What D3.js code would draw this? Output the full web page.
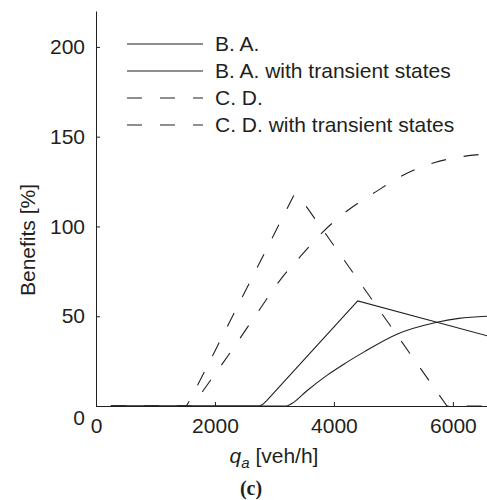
<!DOCTYPE html>
<head>
    <title>benefits chart</title>
    <meta charset="utf-8">
    <style>
    body { margin: 0; background-color: #fff; }
    svg { display: block; }
    text { fill: #231f20; font-family: "Liberation Sans", Arial, sans-serif; }
    .axis path, .axis line { stroke: #231f20; }
    .curve { fill: none; stroke: #231f20; stroke-width: 1.1; }
    </style>
    <script src="https://d3js.org/d3.v7.min.js"></script>
</head>
<body>
<script>
// values: [q_a, benefit %]
const baPeak = [[250, 0], [2750, 0], [2800, 0.8], [2870, 3], [4400, 58.5], [6590, 39]];
const baTransient = [[250, 0], [3200, 0], [3300, 1.5], [3546, 8.5], [3900, 17.5], [4200, 24], [4500, 30],
    [5059, 40], [5714, 46.5], [6100, 48.8], [6590, 50]];
const cdPeak = [[250, 0], [1520, 0], [1600, 4.5], [3320, 117], [3400, 117.5], [5900, 0], [6590, 0]];
const cdTransient = [[250, 0], [1620, 0], [1800, 8.5], [2135, 24], [2756, 54], [3092, 70], [3429, 83],
    [3815, 97], [4235, 109], [4689, 119], [5160, 128.5], [5681, 135.5], [6100, 138.6], [6590, 140.5]];

const legendLabels = ['B. A.', 'B. A. with transient states', 'C. D.', 'C. D. with transient states'];
const xTicks = [0, 2000, 4000, 6000];
const yTicks = [0, 50, 100, 150, 200];

const width = 487, height = 500;
const svg = d3.select('body').append('svg')
    .attr('width', width)
    .attr('height', height);

// scales
const x = d3.scaleLinear().domain([0, 6590]).range([96, 488]);
const y = d3.scaleLinear().domain([0, 220]).range([406, 11]);

// axes (ticks point inward, like matlab)
const xAxis = svg.append('g')
    .attr('class', 'axis')
    .attr('transform', `translate(0,${y(0)})`)
    .call(d3.axisBottom(x).tickValues(xTicks).tickFormat(d3.format('d'))
        .tickSizeInner(-4).tickSizeOuter(0).tickPadding(12));

const yAxis = svg.append('g')
    .attr('class', 'axis')
    .attr('transform', `translate(${x(0)},0)`)
    .call(d3.axisLeft(y).tickValues(yTicks).tickFormat(d3.format('d'))
        .tickSizeInner(-4).tickSizeOuter(0).tickPadding(11));

svg.selectAll('.axis text')
    .style('font-family', '"Liberation Sans", Arial, sans-serif')
    .style('font-size', '21px')
    .attr('fill', '#231f20');

// the zero on the y axis sits a bit low in the original
yAxis.selectAll('.tick')
    .filter(d => d === 0)
    .select('text')
    .attr('dy', '0.9em');

// curves
const line = d3.line()
    .x(d => x(d[0]))
    .y(d => y(d[1]));
const smooth = d3.line()
    .curve(d3.curveMonotoneX)
    .x(d => x(d[0]))
    .y(d => y(d[1]));

const dash = '15,18';

svg.append('path').datum(baPeak).attr('class', 'curve').attr('d', line);
svg.append('path').datum(baTransient).attr('class', 'curve').attr('d', smooth);
svg.append('path').datum(cdPeak).attr('class', 'curve').attr('stroke-dasharray', dash).attr('d', line);
svg.append('path').datum(cdTransient).attr('class', 'curve').attr('stroke-dasharray', dash).attr('d', smooth);

// legend
const legend = svg.append('g').attr('transform', 'translate(127,44)');
legendLabels.forEach(function (lbl, i) {
    const row = legend.append('g').attr('transform', `translate(0,${i * 27})`);
    row.append('line')
        .attr('class', 'curve')
        .attr('x1', 0).attr('x2', 76)
        .attr('stroke-dasharray', i > 1 ? dash : null);
    row.append('text')
        .attr('x', 88)
        .attr('dy', '0.35em')
        .style('font-size', '21px')
        .text(lbl);
});

// axis titles
svg.append('text')
    .attr('transform', 'translate(35,240) rotate(-90)')
    .attr('text-anchor', 'middle')
    .style('font-size', '21px')
    .text('Benefits [%]');

const xlab = svg.append('text')
    .attr('x', 274)
    .attr('y', 463)
    .attr('text-anchor', 'middle')
    .style('font-size', '21px');
xlab.append('tspan').style('font-style', 'italic').text('q');
xlab.append('tspan').style('font-style', 'italic').style('font-size', '15px').attr('dy', 5).text('a');
xlab.append('tspan').attr('dy', -5).text(' [veh/h]');

svg.append('text')
    .attr('x', 251)
    .attr('y', 495)
    .attr('text-anchor', 'middle')
    .style('font-family', '"Liberation Serif", "DejaVu Serif", serif')
    .style('font-weight', 'bold')
    .style('font-size', '20px')
    .text('(c)');
</script>
</body>
</html>
